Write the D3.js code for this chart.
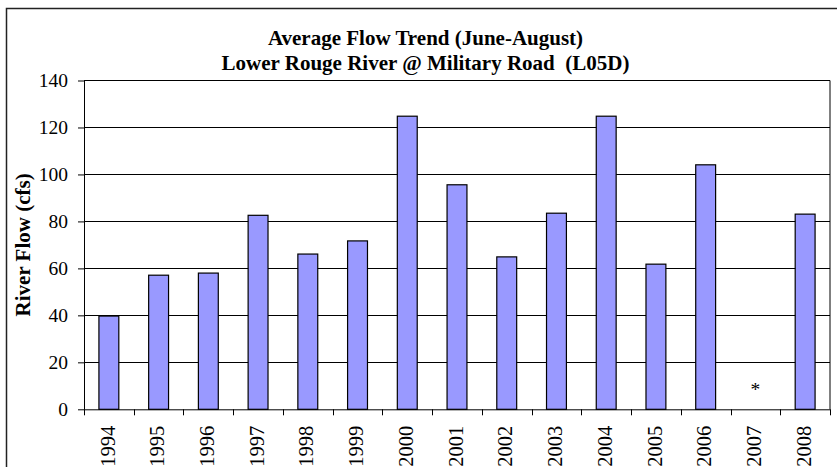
<!DOCTYPE html>
<html>
<head>
<meta charset="utf-8">
<script src="https://cdn.jsdelivr.net/npm/d3@7"></script>
<style>
  html, body { margin: 0; padding: 0; background: #fff; }
  svg { display: block; }
  text { font-family: "Liberation Serif", "Times New Roman", serif; fill: #000; }
</style>
</head>
<body>
<svg id="chart" width="837" height="467"></svg>
<script>
// ---- data ----
const years = ["1994","1995","1996","1997","1998","1999","2000","2001","2002","2003","2004","2005","2006","2007","2008"];
const flows = [39.7, 57.1, 58.0, 82.6, 66.1, 71.7, 124.8, 95.6, 64.9, 83.5, 124.8, 61.8, 104.1, null, 83.1];
const notes = ["", "", "", "", "", "", "", "", "", "", "", "", "", "*", ""];
const yTicks = [0, 20, 40, 60, 80, 100, 120, 140];
const titleLines = ["Average Flow Trend (June-August)", "Lower Rouge River @ Military Road  (L05D)"];
const yLabel = "River Flow (cfs)";

// ---- layout ----
const plot = { left: 84, right: 830, top: 80.5, bottom: 409.3 };

const svg = d3.select("#chart");

// outer chart border
svg.append("rect")
  .attr("x", 6.5).attr("y", 8.5)
  .attr("width", 840).attr("height", 480)
  .attr("fill", "#fff").attr("stroke", "#222").attr("stroke-width", 1.5);

const x = d3.scaleBand()
  .domain(years)
  .range([plot.left, plot.right])
  .paddingInner(0.6)
  .paddingOuter(0.3);

const y = d3.scaleLinear()
  .domain([0, 140])
  .range([plot.bottom, plot.top]);

// gridlines
svg.append("g")
  .selectAll("line")
  .data(yTicks.filter(t => t > 0 && t < 140))
  .join("line")
  .attr("x1", plot.left).attr("x2", plot.right)
  .attr("y1", d => Math.round(y(d)) + 0.5).attr("y2", d => Math.round(y(d)) + 0.5)
  .attr("stroke", "#000").attr("stroke-width", 1);

// plot border (top and right)
svg.append("path")
  .attr("d", `M${plot.left},${plot.top}H${plot.right}V${plot.bottom}`)
  .attr("fill", "none").attr("stroke", "#000").attr("stroke-width", 1);

// bars
svg.append("g")
  .selectAll("rect")
  .data(years.map((yr, i) => ({ yr, v: flows[i] })).filter(d => d.v != null))
  .join("rect")
  .attr("x", d => x(d.yr))
  .attr("y", d => y(d.v))
  .attr("width", x.bandwidth())
  .attr("height", d => y(0) - y(d.v))
  .attr("fill", "#9999FF")
  .attr("stroke", "#000")
  .attr("stroke-width", 1.2);

// annotations (missing data marker)
svg.append("g")
  .selectAll("text")
  .data(years.map((yr, i) => ({ yr, n: notes[i] })).filter(d => d.n))
  .join("text")
  .attr("x", d => x(d.yr) + x.bandwidth() / 2)
  .attr("y", y(5.5))
  .attr("text-anchor", "middle")
  .attr("font-size", "19.5px")
  .text(d => d.n);

// y axis
const yAxis = svg.append("g")
  .attr("transform", `translate(${plot.left},0)`)
  .call(d3.axisLeft(y).tickValues(yTicks).tickSize(6).tickPadding(10).tickSizeOuter(0));
yAxis.attr("font-family", null).attr("font-size", null);
yAxis.select(".domain").attr("stroke", "#000");
yAxis.selectAll(".tick line").attr("stroke", "#000");
yAxis.selectAll(".tick text")
  .attr("font-size", "19.5px")
  .attr("fill", "#000");

// x axis (labels)
const xAxis = svg.append("g")
  .attr("transform", `translate(0,${plot.bottom})`)
  .call(d3.axisBottom(x).tickSize(0).tickSizeOuter(0));
xAxis.attr("font-family", null).attr("font-size", null);
xAxis.select(".domain").attr("stroke", "#000");
xAxis.selectAll(".tick text")
  .attr("font-size", "20.5px")
  .attr("fill", "#000")
  .attr("transform", "rotate(-90)")
  .attr("text-anchor", "end")
  .attr("x", -16.5)
  .attr("y", -1.5)
  .attr("dy", "0.35em");

// x tick marks at category boundaries
const half = (x.step() - x.bandwidth()) / 2;
const bounds = years.map(yr => x(yr) - half).concat([x(years[years.length - 1]) + x.bandwidth() + half]);
svg.append("g")
  .selectAll("line")
  .data(bounds)
  .join("line")
  .attr("x1", d => Math.round(d) + 0.5).attr("x2", d => Math.round(d) + 0.5)
  .attr("y1", plot.bottom).attr("y2", plot.bottom + 6)
  .attr("stroke", "#000");

// title
svg.append("g")
  .selectAll("text")
  .data(titleLines)
  .join("text")
  .attr("x", 425.5)
  .attr("y", (d, i) => 45 + i * 25.3)
  .attr("text-anchor", "middle")
  .attr("font-weight", "bold")
  .attr("font-size", "21px")
  .style("white-space", "pre")
  .text(d => d);

// y label
svg.append("text")
  .attr("transform", `translate(30,${(plot.top + plot.bottom) / 2}) rotate(-90)`)
  .attr("text-anchor", "middle")
  .attr("font-weight", "bold")
  .attr("font-size", "21px")
  .text(yLabel);
</script>
</body>
</html>
